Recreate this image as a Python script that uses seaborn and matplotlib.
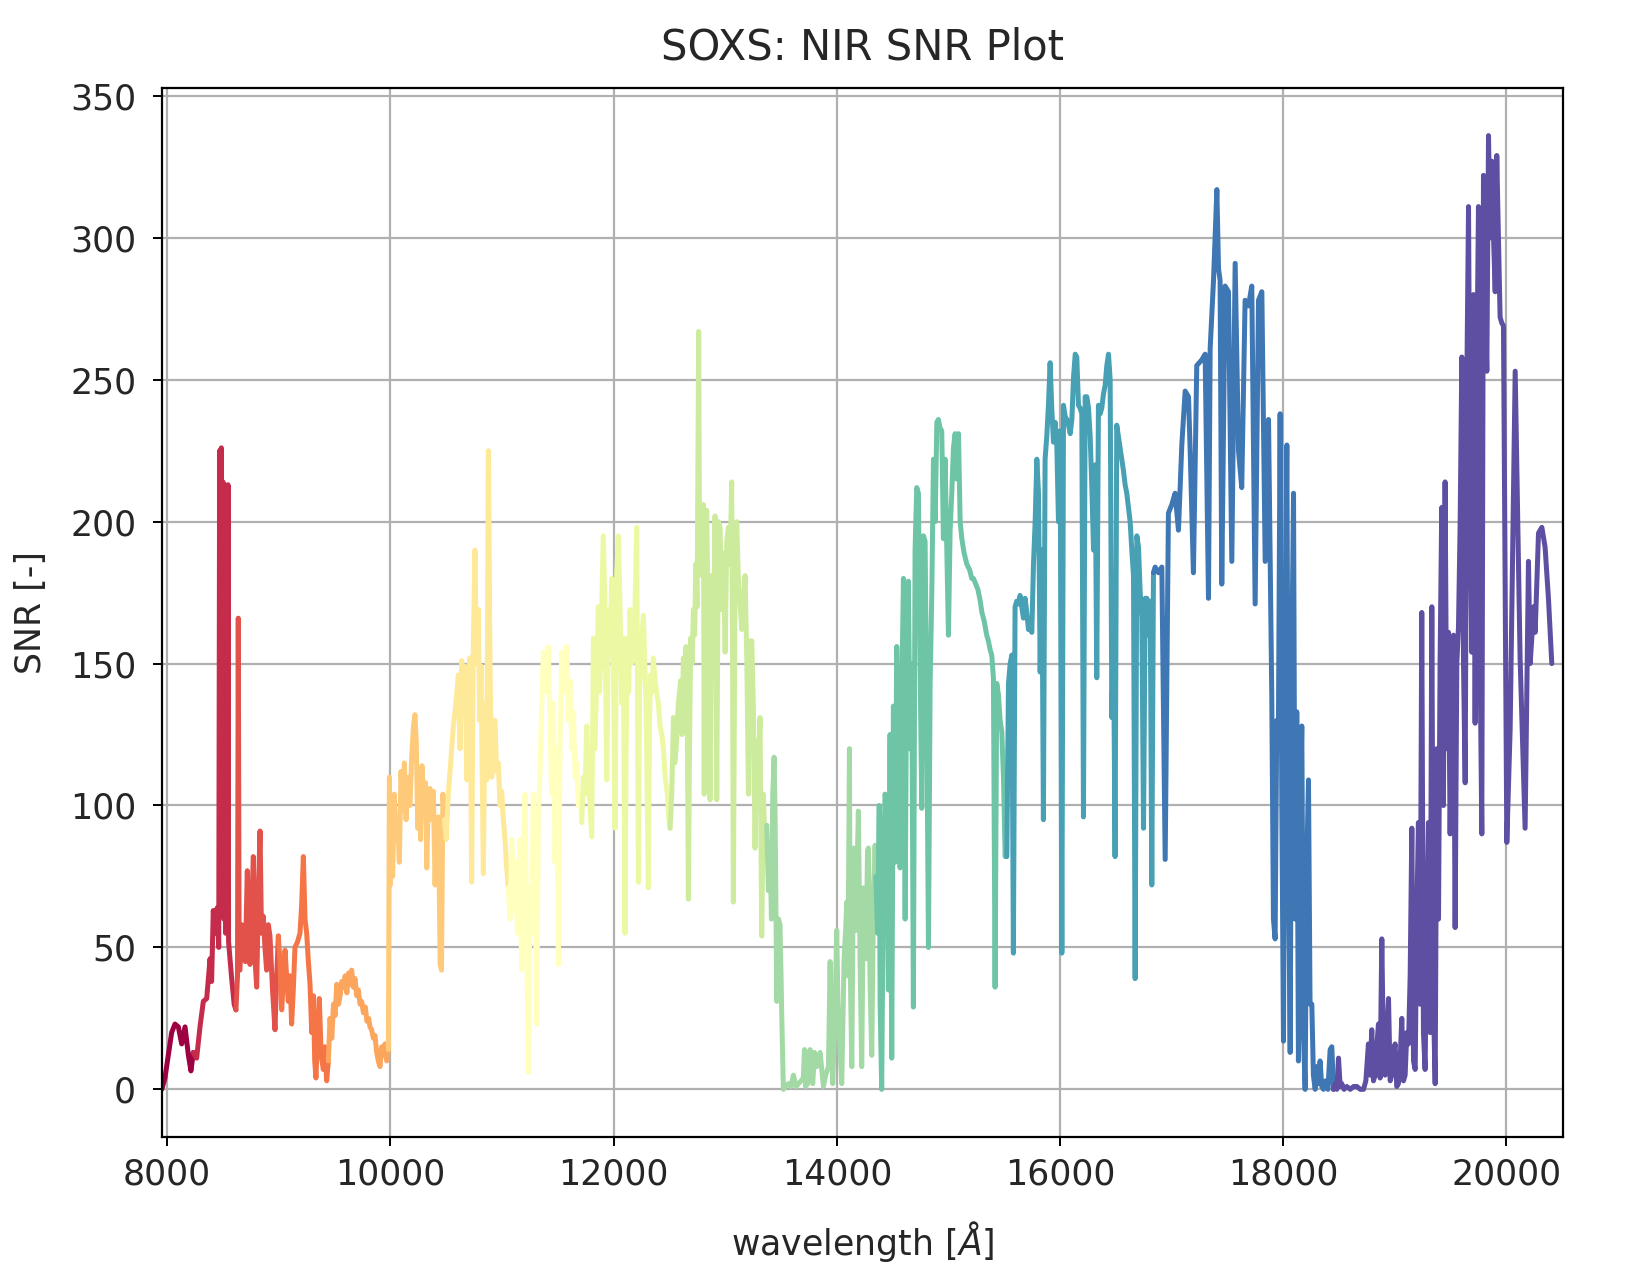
import matplotlib
matplotlib.use("Agg")
import matplotlib.pyplot as plt
import seaborn as sns
import pandas as pd

sns.set_theme(style="ticks")
plt.rcParams['font.family'] = ['DejaVu Sans']

# ---- data: (wavelength [A], SNR) per echelle order ----
seg01 = [(7952, 0), (7980, 4), (8010, 12), (8040, 20), (8070, 23), (8100, 22), (8130, 16),
         (8160, 22), (8190, 12), (8213, 6.5), (8234, 13)]
seg02 = [(8234, 13), (8264, 11), (8294, 22), (8324, 31), (8354, 32), (8384, 46), (8398, 38),
         (8413, 63), (8430, 55), (8449, 64), (8462, 50), (8470, 225), (8478, 80), (8485, 226),
         (8492, 70), (8500, 214), (8508, 60), (8516, 213), (8524, 55), (8532, 212), (8540, 60),
         (8545, 213), (8550, 52), (8565, 45), (8578, 39), (8600, 30), (8616, 28)]
seg03 = [(8616, 28), (8630, 40), (8637, 166), (8645, 42), (8652, 42), (8668, 58), (8682, 55),
         (8700, 45), (8718, 77), (8730, 50), (8742, 44), (8758, 65), (8772, 82), (8788, 45),
         (8802, 36), (8818, 70), (8832, 91), (8845, 55), (8861, 61), (8876, 50), (8891, 42),
         (8906, 58), (8921, 54), (8944, 35), (8966, 21), (8982, 40), (8996, 54)]
seg04 = [(8996, 54), (9010, 45), (9026, 28), (9040, 38), (9056, 49), (9070, 40), (9085, 31),
         (9100, 40), (9115, 23), (9130, 35), (9145, 50), (9168, 52), (9190, 55), (9205, 65),
         (9220, 82), (9235, 60), (9250, 55), (9265, 45), (9280, 37), (9295, 20), (9310, 33),
         (9322, 10), (9333, 4), (9348, 20), (9363, 32), (9380, 12), (9399, 7), (9414, 15),
         (9429, 3), (9444, 10)]
seg05 = [(9444, 10), (9459, 25), (9475, 18), (9490, 30), (9505, 26), (9519, 37), (9535, 30),
         (9550, 33), (9565, 38), (9578, 36), (9595, 40), (9610, 34), (9625, 41), (9640, 37),
         (9653, 42), (9668, 36), (9683, 39), (9698, 33), (9713, 35), (9728, 30), (9743, 31),
         (9758, 27), (9775, 29), (9790, 24), (9805, 25), (9817, 22), (9832, 21), (9847, 18),
         (9862, 19), (9877, 13), (9892, 10), (9907, 8), (9922, 15), (9937, 12), (9952, 16),
         (9967, 10), (9982, 14)]
seg06 = [(9982, 14), (9991, 110), (10000, 72), (10010, 100), (10020, 75), (10035, 104),
         (10050, 88), (10065, 95), (10080, 80), (10095, 112), (10110, 98), (10125, 115),
         (10140, 95), (10160, 110), (10175, 100), (10192, 118), (10207, 128), (10220, 132),
         (10232, 122), (10245, 92), (10258, 110), (10270, 88), (10283, 114), (10300, 100),
         (10315, 108), (10326, 78), (10340, 104), (10355, 106), (10370, 95), (10385, 105),
         (10400, 72), (10415, 90), (10430, 96), (10446, 44), (10458, 42), (10470, 104),
         (10485, 95)]
seg07 = [(10485, 95), (10500, 88), (10519, 104), (10540, 115), (10564, 128), (10585, 135),
         (10609, 146), (10624, 120), (10639, 151), (10655, 140), (10669, 149), (10684, 109),
         (10698, 135), (10713, 152), (10728, 73), (10743, 157), (10758, 190), (10770, 150),
         (10788, 169), (10800, 130), (10812, 149), (10833, 76), (10848, 136), (10863, 109),
         (10878, 225), (10893, 148), (10908, 110), (10922, 125), (10937, 130), (10952, 112),
         (10967, 115), (10982, 100), (10997, 105), (11012, 95), (11027, 88), (11042, 78),
         (11057, 71)]
seg08 = [(11057, 71), (11072, 60), (11087, 88), (11102, 75), (11117, 63), (11130, 80),
         (11138, 55), (11150, 70), (11161, 88), (11176, 42), (11190, 85), (11206, 104),
         (11221, 55), (11236, 6), (11251, 71), (11266, 55), (11280, 104), (11295, 85),
         (11311, 23), (11326, 96), (11341, 112), (11356, 136), (11371, 154), (11385, 140),
         (11400, 149), (11415, 156), (11430, 128), (11445, 104), (11460, 136), (11475, 80),
         (11490, 120), (11505, 44), (11520, 120), (11535, 154), (11550, 140), (11565, 149),
         (11580, 156), (11595, 130), (11610, 144), (11625, 120), (11640, 133), (11655, 110),
         (11669, 115), (11684, 100), (11700, 104), (11714, 94)]
seg09 = [(11714, 94), (11729, 110), (11744, 104), (11759, 128), (11771, 110), (11783, 104),
         (11795, 95), (11804, 89), (11819, 159), (11831, 120), (11843, 136), (11853, 150),
         (11863, 170), (11874, 140), (11884, 152), (11896, 175), (11908, 195), (11923, 169),
         (11938, 109), (11950, 150), (11962, 169), (11972, 160), (11983, 180), (11998, 152),
         (12013, 92), (12028, 182), (12043, 195), (12058, 169), (12073, 136), (12087, 159),
         (12102, 55), (12112, 120), (12123, 159), (12135, 140), (12147, 169), (12162, 150),
         (12177, 152), (12192, 170), (12207, 198), (12222, 73), (12232, 140), (12243, 152),
         (12255, 160), (12267, 167), (12279, 150), (12291, 136), (12311, 71), (12322, 130),
         (12332, 146), (12344, 140), (12356, 152), (12370, 145), (12385, 140), (12401, 136),
         (12416, 128), (12431, 125), (12446, 120), (12462, 110), (12482, 104), (12494, 95),
         (12506, 92)]
seg10 = [(12506, 92), (12521, 104), (12536, 131), (12548, 115), (12560, 120), (12580, 136),
         (12601, 144), (12613, 125), (12625, 152), (12637, 140), (12649, 156), (12660, 130),
         (12670, 67), (12680, 120), (12691, 159), (12703, 150), (12715, 169), (12726, 160),
         (12736, 185), (12748, 170), (12762, 267), (12770, 190), (12781, 201), (12790, 181),
         (12805, 206), (12812, 104), (12819, 185), (12834, 204), (12849, 160), (12864, 102),
         (12879, 181), (12894, 152), (12909, 202), (12924, 102), (12939, 200), (12954, 198),
         (12969, 169), (12984, 189), (12999, 154), (13014, 193), (13028, 198), (13043, 185),
         (13058, 214), (13066, 150), (13073, 66), (13088, 181), (13103, 200), (13118, 180),
         (13133, 171), (13148, 162), (13163, 170), (13178, 181), (13193, 152), (13208, 104),
         (13223, 158), (13238, 158), (13253, 133), (13267, 85), (13278, 110), (13288, 123),
         (13300, 115), (13312, 131), (13327, 54), (13342, 104), (13357, 85), (13372, 93)]
seg11 = [(13372, 93), (13387, 70), (13402, 85), (13414, 60), (13426, 104), (13438, 117),
         (13447, 96), (13462, 31), (13477, 60), (13491, 58), (13500, 40), (13506, 27),
         (13521, 0), (13540, 1), (13566, 2), (13590, 1), (13611, 5), (13635, 1), (13656, 2),
         (13680, 3), (13700, 4), (13710, 14), (13720, 1), (13740, 2), (13760, 14), (13784, 2),
         (13800, 13), (13820, 8), (13850, 13), (13880, 1), (13900, 5), (13925, 8), (13940, 45),
         (13950, 20), (13963, 2), (13984, 27), (13999, 56), (14010, 30), (14023, 18),
         (14044, 2), (14055, 25), (14065, 46), (14080, 57), (14089, 66), (14100, 40),
         (14113, 120), (14119, 46), (14134, 8), (14149, 85), (14160, 60), (14172, 56),
         (14183, 80), (14193, 98), (14208, 46), (14223, 8), (14238, 71), (14250, 60),
         (14262, 46), (14275, 84), (14283, 85), (14298, 37), (14313, 12), (14328, 66),
         (14343, 86), (14350, 75)]
seg12 = [(14350, 75), (14365, 55), (14380, 100), (14388, 30), (14402, 0), (14417, 75),
         (14432, 104), (14447, 101), (14462, 35), (14477, 125), (14492, 11), (14507, 135),
         (14522, 80), (14537, 156), (14552, 110), (14567, 78), (14582, 140), (14597, 180),
         (14612, 60), (14627, 160), (14641, 179), (14656, 120), (14671, 150), (14686, 29),
         (14701, 190), (14716, 212), (14731, 210), (14746, 150), (14761, 99), (14776, 195),
         (14791, 193), (14806, 130), (14821, 50), (14836, 143), (14851, 175), (14866, 222),
         (14881, 200), (14896, 235), (14910, 236), (14925, 233), (14940, 232), (14955, 194),
         (14970, 222), (14985, 191), (15000, 160), (15015, 197), (15030, 210), (15045, 226),
         (15060, 231), (15075, 215), (15090, 231), (15105, 200), (15120, 194), (15140, 189),
         (15165, 185), (15190, 183), (15209, 180), (15224, 180), (15245, 178), (15265, 176),
         (15285, 172), (15300, 168), (15320, 165), (15343, 160), (15358, 158), (15373, 155),
         (15388, 153), (15403, 145), (15418, 36), (15433, 143), (15448, 139), (15463, 130),
         (15478, 126), (15493, 110), (15508, 82), (15523, 85)]
seg13 = [(15523, 82), (15538, 143), (15553, 150), (15568, 153), (15582, 48), (15597, 170),
         (15612, 172), (15627, 171), (15642, 174), (15657, 170), (15672, 166), (15687, 173),
         (15702, 168), (15717, 162), (15732, 163), (15747, 161), (15762, 185), (15777, 200),
         (15792, 222), (15807, 210), (15822, 147), (15837, 190), (15851, 95), (15866, 222),
         (15881, 230), (15896, 241), (15911, 256), (15926, 240), (15941, 228), (15956, 235),
         (15971, 227), (15986, 200), (16001, 232), (16016, 48), (16031, 241), (16046, 237),
         (16061, 236), (16076, 234), (16091, 231), (16106, 236), (16121, 251), (16136, 259),
         (16150, 258), (16165, 241), (16180, 240), (16195, 238), (16210, 96), (16225, 244),
         (16240, 244), (16255, 240), (16270, 230), (16285, 212), (16300, 190), (16315, 220),
         (16329, 145), (16344, 241), (16359, 238), (16374, 240), (16389, 245), (16404, 248),
         (16419, 255), (16434, 259), (16449, 250), (16464, 131), (16479, 160), (16493, 82),
         (16508, 234), (16523, 230), (16538, 226), (16553, 222), (16568, 218), (16583, 213),
         (16598, 210), (16613, 205), (16628, 200), (16643, 190), (16658, 181), (16673, 39),
         (16688, 195), (16703, 191), (16718, 175), (16733, 166), (16748, 92), (16763, 173),
         (16778, 173), (16793, 160), (16808, 172), (16822, 72), (16837, 182)]
seg14 = [(16837, 182), (16852, 184), (16882, 182), (16912, 184), (16942, 81), (16971, 203),
         (17001, 206), (17031, 210), (17061, 197), (17091, 227), (17121, 246), (17151, 244),
         (17166, 225), (17195, 182), (17225, 255), (17270, 257), (17300, 259), (17330, 173),
         (17345, 261), (17375, 285), (17405, 317), (17420, 289), (17434, 285), (17449, 178),
         (17479, 283), (17509, 281), (17539, 186), (17569, 291), (17599, 225), (17628, 212),
         (17658, 278), (17688, 276), (17718, 283), (17748, 171), (17778, 278), (17808, 281),
         (17838, 186), (17868, 236), (17897, 139), (17912, 60), (17927, 53), (17942, 130),
         (17957, 130), (17972, 238), (17987, 100), (18002, 17), (18017, 150), (18032, 227),
         (18047, 80), (18062, 13), (18076, 150), (18092, 210), (18106, 60), (18121, 133),
         (18136, 10), (18151, 90), (18166, 128), (18181, 20), (18196, 0), (18211, 80),
         (18226, 109), (18240, 30), (18256, 30), (18270, 5), (18286, 0), (18300, 8),
         (18315, 2), (18330, 10), (18345, 1), (18360, 0), (18380, 3), (18400, 0), (18420, 14),
         (18435, 15), (18450, 0)]
seg15 = [(18450, 0), (18465, 2), (18480, 0), (18495, 11), (18510, 1), (18524, 2), (18545, 0),
         (18569, 1), (18600, 0), (18630, 1), (18659, 1), (18690, 0), (18719, 0), (18740, 3),
         (18763, 16), (18778, 5), (18793, 21), (18808, 3), (18823, 5), (18838, 15), (18853, 23),
         (18868, 4), (18883, 53), (18898, 10), (18913, 5), (18928, 20), (18943, 32), (18958, 3),
         (18972, 5), (18987, 12), (19002, 16), (19017, 1), (19032, 2), (19047, 10), (19062, 25),
         (19077, 3), (19092, 5), (19107, 20), (19122, 16), (19137, 40), (19152, 92), (19167, 10),
         (19182, 7), (19196, 60), (19211, 94), (19226, 30), (19241, 168), (19256, 20),
         (19271, 7), (19286, 60), (19301, 94), (19316, 20), (19331, 170), (19346, 30),
         (19361, 2), (19376, 120), (19391, 60), (19405, 150), (19420, 205), (19435, 100),
         (19450, 214), (19465, 120), (19480, 161), (19495, 90), (19510, 136), (19525, 160),
         (19540, 57), (19555, 150), (19570, 163), (19585, 200), (19600, 258), (19615, 150),
         (19630, 108), (19645, 250), (19660, 311), (19675, 200), (19689, 154), (19704, 280),
         (19719, 129), (19734, 250), (19749, 311), (19764, 150), (19779, 90), (19794, 322),
         (19809, 280), (19824, 253), (19839, 336), (19854, 300), (19869, 327), (19884, 300),
         (19899, 281), (19913, 329), (19928, 300), (19943, 272), (19958, 270), (19973, 269),
         (20003, 87), (20033, 127), (20078, 253), (20122, 152), (20167, 92), (20197, 186),
         (20212, 150), (20227, 159), (20242, 170), (20257, 161), (20287, 196), (20317, 198),
         (20346, 191), (20376, 173), (20406, 150)]

segments = [seg01, seg02, seg03, seg04, seg05, seg06, seg07, seg08,
            seg09, seg10, seg11, seg12, seg13, seg14, seg15]

x_ticks = [8000, 10000, 12000, 14000, 16000, 18000, 20000]
y_ticks = [0, 50, 100, 150, 200, 250, 300, 350]

title_text = "SOXS: NIR SNR Plot"
x_label = r"wavelength [$\AA$]"
y_label = "SNR [-]"

# ---- build table ----
rows = []
for i, seg in enumerate(segments):
    for wl, snr in seg:
        rows.append((wl, snr, f"order {i + 1:02d}"))
df = pd.DataFrame(rows, columns=["wavelength", "snr", "order"])

cmap = plt.get_cmap("Spectral")
palette = [cmap(i / (len(segments) - 1)) for i in range(len(segments))]

# ---- draw ----
fig = plt.figure(figsize=(16.39, 12.69), dpi=100)
ax = fig.add_axes([0.0988, 0.104, 0.8548, 0.8267])

sns.lineplot(data=df, x="wavelength", y="snr", hue="order", palette=palette,
             estimator=None, sort=False, legend=False, linewidth=3.6, ax=ax)

ax.set_xlim(7953, 20506)
ax.set_ylim(-16.8, 352.8)
ax.set_xticks(x_ticks)
ax.set_yticks(y_ticks)
ax.grid(True, color="#b0b0b0", linewidth=1.6)
ax.set_axisbelow(True)
for s in ax.spines.values():
    s.set_color("black")
    s.set_linewidth(1.6)
ax.tick_params(axis="both", length=6.5, width=1.4, color="black",
               labelsize=25, labelcolor="#262626")
ax.tick_params(axis="x", pad=8)
ax.tick_params(axis="y", pad=12)

ax.set_xlabel(x_label, fontsize=25, color="#262626")
ax.set_ylabel(y_label, fontsize=25, color="#262626")
ax.xaxis.set_label_coords(0.5, -0.100)
ax.xaxis.label.set_va("center")
ax.yaxis.set_label_coords(-0.0935, 0.5)
ax.yaxis.label.set_va("center")
ax.set_title(title_text, fontsize=30, color="#262626", y=1.039, pad=0, va="center")

fig.savefig("out.png", dpi=100)
